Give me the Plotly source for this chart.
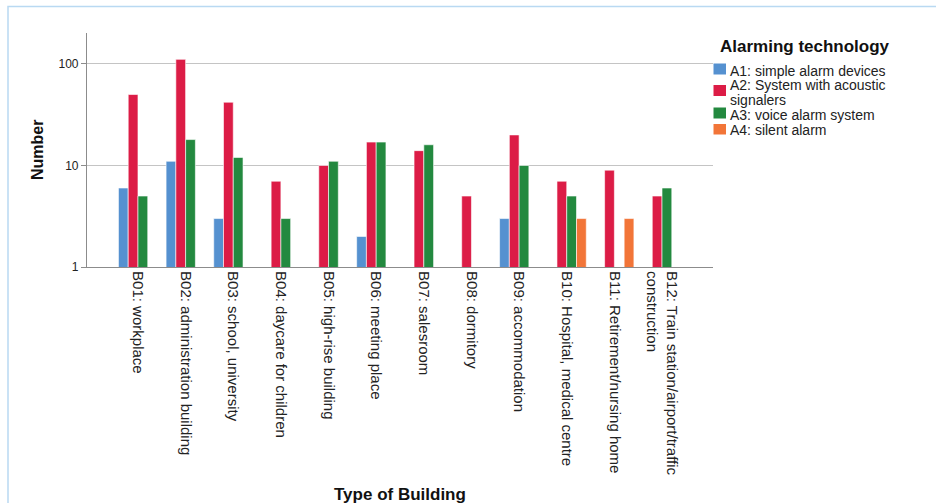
import plotly.graph_objects as go

# Building types (x categories)
buildings = [
    "B01: workplace",
    "B02: administration building",
    "B03: school, university",
    "B04: daycare for children",
    "B05: high-rise building",
    "B06: meeting place",
    "B07: salesroom",
    "B08: dormitory",
    "B09: accommodation",
    "B10: Hospital, medical centre",
    "B11: Retirement/nursing home",
    "B12: Train station/airport/traffic<br>construction",
]

# Counts per alarming technology (None = no cases)
a1_simple = [6, 11, 3, None, None, 2, None, None, 3, None, None, None]
a2_acoustic = [50, 111, 42, 7, 10, 17, 14, 5, 20, 7, 9, 5]
a3_voice = [5, 18, 12, 3, 11, 17, 16, None, 10, 5, None, 6]
a4_silent = [None, None, None, None, None, None, None, None, None, 3, 3, None]

series_names = [
    "A1: simple alarm devices",
    "A2: System with acoustic signalers",
    "A3: voice alarm system",
    "A4: silent alarm",
]
# legend text lines per series
legend_lines = [
    ["A1: simple alarm devices"],
    ["A2: System with acoustic", "signalers"],
    ["A3: voice alarm system"],
    ["A4: silent alarm"],
]
series_values = [a1_simple, a2_acoustic, a3_voice, a4_silent]
series_colors = ["#5591d0", "#dc1c46", "#23893f", "#f27538"]

y_ticks = [1, 10, 100]

W, H = 936, 503
L, R, T, B = 87, 713, 33, 267  # plot area in pixels


def px_x(p):
    return (p - L) / (R - L)


def px_y(p):
    return (B - p) / (B - T)


FONT = "Liberation Sans, Arial, sans-serif"

fig = go.Figure()
idx = list(range(len(buildings)))
for name, vals, col in zip(series_names, series_values, series_colors):
    fig.add_trace(go.Bar(
        x=idx, y=vals, name=name,
        marker=dict(color=col, line=dict(color="white", width=0.6)),
        showlegend=False,
    ))

shapes = []
annotations = []

# Outer light-blue frame
shapes.append(dict(type="rect", xref="paper", yref="paper",
                   x0=px_x(8), x1=px_x(960), y0=px_y(530), y1=px_y(6.5),
                   line=dict(color="#b9d9f2", width=1.5), layer="below"))

# Legend block
annotations.append(dict(xref="paper", yref="paper", x=px_x(718), y=px_y(46),
                        xanchor="left", yanchor="middle", showarrow=False,
                        text="<b>Alarming technology</b>",
                        font=dict(family=FONT, size=17, color="#111")))
legend_boxes = [(63.5, 74.5), (85, 96), (107.5, 118.5), (124, 134.5)]
legend_text_y = [[70.5], [84.5, 100], [115.5], [130]]
for (y0, y1), lines, ys, col in zip(legend_boxes, legend_lines, legend_text_y, series_colors):
    shapes.append(dict(type="rect", xref="paper", yref="paper",
                       x0=px_x(713.5), x1=px_x(726), y0=px_y(y1), y1=px_y(y0),
                       fillcolor=col, line=dict(width=0)))
    for line, yt in zip(lines, ys):
        annotations.append(dict(xref="paper", yref="paper", x=px_x(729), y=px_y(yt),
                                xanchor="left", yanchor="middle", align="left",
                                showarrow=False, text=line, borderpad=0,
                                font=dict(family=FONT, size=14, color="#222")))

# Axis titles
annotations.append(dict(xref="paper", yref="paper", x=0.5, y=px_y(494),
                        xanchor="center", yanchor="middle", showarrow=False,
                        text="<b>Type of Building</b>",
                        font=dict(family=FONT, size=17, color="#111")))
annotations.append(dict(xref="paper", yref="paper", x=px_x(37), y=px_y(150),
                        xanchor="center", yanchor="middle", showarrow=False,
                        textangle=-90, text="<b>Number</b>",
                        font=dict(family=FONT, size=16, color="#111")))

fig.update_layout(
    width=W, height=H,
    margin=dict(l=L, r=W - R, t=T, b=H - B),
    paper_bgcolor="white", plot_bgcolor="white",
    barmode="group", bargap=0.18, bargroupgap=0.0,
    showlegend=False,
    shapes=shapes, annotations=annotations,
    font=dict(family=FONT, color="#222"),
)
fig.update_xaxes(
    tickmode="array", tickvals=idx, ticktext=buildings,
    tickangle=90, range=[-1.07, len(buildings) - 1 + 1.07],
    showline=True, linecolor="#8c8c8c", linewidth=1.2,
    ticks="", showgrid=False, zeroline=False,
    tickfont=dict(family=FONT, size=15, color="#222"),
)
fig.update_yaxes(
    type="log", range=[0, 2.305],
    tickmode="array", tickvals=y_ticks, ticktext=[str(v) for v in y_ticks],
    showline=True, linecolor="#8c8c8c", linewidth=1.2,
    ticks="outside", ticklen=5, tickcolor="#8c8c8c",
    showgrid=True, gridcolor="#c4c4c4", gridwidth=1.2,
    zeroline=False,
    tickfont=dict(family=FONT, size=12, color="#222"),
)

fig.write_html("out.html")
